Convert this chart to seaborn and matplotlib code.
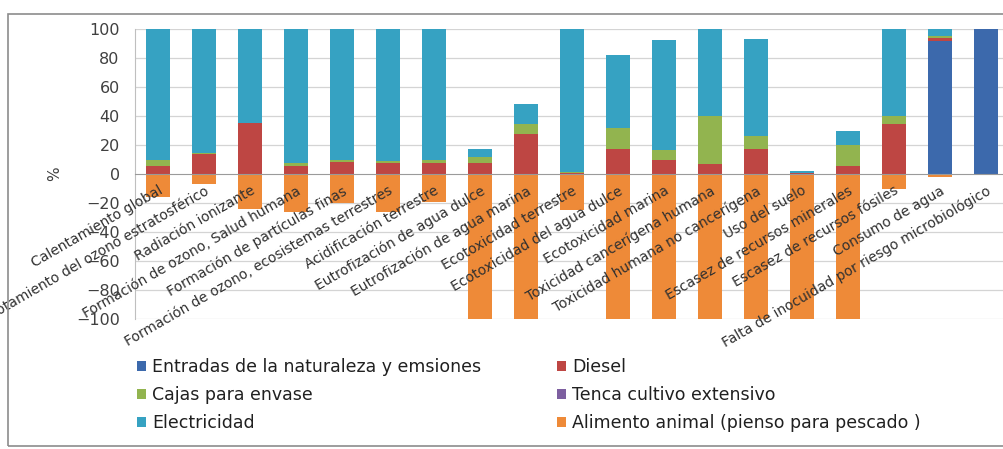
import numpy as np
import pandas as pd
import matplotlib
matplotlib.use("Agg")
import matplotlib.pyplot as plt
from matplotlib.patches import Patch, Rectangle
import seaborn as sns

sns.set_style("white")
plt.rcParams['font.family'] = ['DejaVu Sans']

# Data (percent contribution per impact category)
categorias = [
    "Calentamiento global",
    "Agotamiento del ozono estratosférico",
    "Radiación ionizante",
    "Formación de ozono, Salud humana",
    "Formación de partículas finas",
    "Formación de ozono, ecosistemas terrestres",
    "Acidificación terrestre",
    "Eutrofización de agua dulce",
    "Eutrofización de agua marina",
    "Ecotoxicidad terrestre",
    "Ecotoxicidad del agua dulce",
    "Ecotoxicidad marina",
    "Toxicidad cancerígena humana",
    "Toxicidad humana no cancerígena",
    "Uso del suelo",
    "Escasez de recursos minerales",
    "Escasez de recursos fósiles",
    "Consumo de agua",
    "Falta de inocuidad por riesgo microbiológico",
]
entradas = [0, 0, 0, 0, 0, 0, 0, 0, 0, 0, 0, 0, 0, 0, 0, 0, 0, 92, 100]
diesel = [5.5, 14, 35, 5.5, 8, 7.4, 7.6, 7.5, 27.3, 1, 17, 9.7, 7, 17, 0.5, 5.3, 34.3, 1.5, 0]
cajas = [4.5, 0.5, 0.3, 2, 1.7, 1.6, 2.4, 4, 7, 0.5, 15, 7, 33, 9, 0.3, 14.4, 5.5, 1.5, 0]
tenca = [0] * 19
electricidad = [90, 85.5, 64.7, 92.5, 90.3, 91, 90, 6, 14.3, 98.5, 50, 76, 60, 67, 1, 9.7, 60.2, 5, 0]
alimento = [-16, -7, -24, -26.5, -20, -26.5, -19, -100, -100, -24.5, -100, -100, -100, -100,
            -100, -100, -10, -2, 0]

series = ["Entradas de la naturaleza y emsiones", "Diesel", "Cajas para envase",
          "Tenca cultivo extensivo", "Electricidad", "Alimento animal (pienso para pescado )"]
colores = ["#3C69AC", "#BE4643", "#92B44F", "#7D5FA0", "#36A2C2", "#EE8A38"]

df = pd.DataFrame({
    "cat": categorias,
    series[0]: entradas,
    series[1]: diesel,
    series[2]: cajas,
    series[3]: tenca,
    series[4]: electricidad,
    series[5]: alimento,
})

fig = plt.figure(figsize=(10.04, 4.49), dpi=100)
ax = fig.add_axes([135 / 1004, 130 / 449, 874 / 1004, 290 / 449])

# gridlines behind the bars
for v in np.arange(-100, 101, 20):
    if v != 0:
        ax.axhline(v, color="#D4D4D4", lw=0.9, zorder=0)

# stacked positive part: draw cumulative sums from top to bottom
pos = series[:5]
cum = df[pos].cumsum(axis=1)
for s, c in reversed(list(zip(pos, colores[:5]))):
    sns.barplot(x=df["cat"], y=cum[s], color=c, width=0.52, ax=ax,
                saturation=1, linewidth=0)
sns.barplot(x=df["cat"], y=df[series[5]], color=colores[5], width=0.52, ax=ax,
            saturation=1, linewidth=0)

ax.set_ylim(-100, 100)
ax.set_xlim(-0.5, len(categorias) - 0.5)
ax.set_yticks(np.arange(-100, 101, 20))
ax.set_axisbelow(False)
for sp in ["top", "right"]:
    ax.spines[sp].set_visible(False)
ax.spines["left"].set_color("#BFBFBF")
ax.spines["bottom"].set_position(("data", 0))
ax.spines["bottom"].set_color("#9A9A9A")

ax.tick_params(axis="y", length=5, color="#9A9A9A", labelsize=11.5,
               labelcolor="#404040", pad=6)
ax.set_xticks(range(len(categorias)))
ax.set_xticklabels(categorias, rotation=30, ha="right", rotation_mode="anchor",
                   fontsize=10, color="#303030")
ax.tick_params(axis="x", which="major", length=0, pad=7)
ax.set_xticks(np.arange(-0.5, len(categorias), 1), minor=True)
ax.tick_params(axis="x", which="minor", length=4, color="#9A9A9A", direction="out")
ax.set_xlabel("")
ax.set_ylabel("%", fontsize=11, color="#404040", labelpad=10)

# legend in two columns, row-major order like the original
h = [Patch(facecolor=c, edgecolor="none") for c in colores]
fig.legend([h[0], h[2], h[4]], [series[0], series[2], series[4]],
           loc="center left", bbox_to_anchor=(121 / 1004, 1 - 395 / 449),
           frameon=False, fontsize=12.5, handlelength=0.55, handleheight=0.55,
           handletextpad=0.35, labelspacing=0.58, labelcolor="#202020")
fig.legend([h[1], h[3], h[5]], [series[1], series[3], series[5]],
           loc="center left", bbox_to_anchor=(541 / 1004, 1 - 395 / 449),
           frameon=False, fontsize=12.5, handlelength=0.55, handleheight=0.55,
           handletextpad=0.35, labelspacing=0.58, labelcolor="#202020")

# outer chart frame
fig.patches.append(Rectangle((8 / 1004, 3 / 449), 1.1, 432 / 449, transform=fig.transFigure,
                             fill=False, edgecolor="#8C8C8C", lw=1.2))

fig.savefig("out.png", dpi=100)
